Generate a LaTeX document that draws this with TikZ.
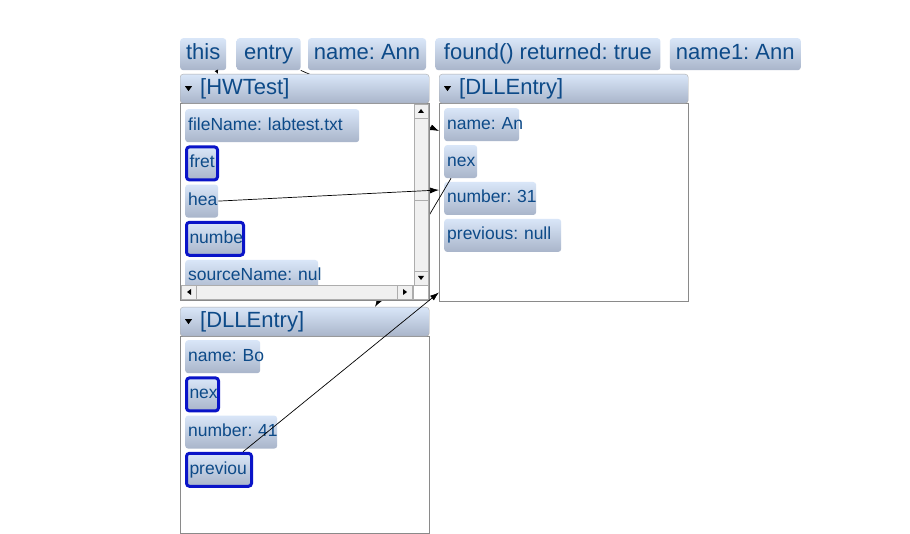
\documentclass[tikz,border=0pt]{standalone}
\usepackage{fontspec}
\setmainfont{Liberation Sans}
\frenchspacing
\usetikzlibrary{arrows.meta,positioning,calc}
\definecolor{lbltop}{HTML}{D9E6F8}
\definecolor{lblbot}{HTML}{A9B5CA}
\definecolor{lbltext}{HTML}{0D4A88}
\definecolor{framegray}{HTML}{8A8A8A}
\definecolor{selblue}{HTML}{0A14C8}
\definecolor{trough}{HTML}{F0F0F0}
\begin{document}
\begin{tikzpicture}[x=1pt,y=-1pt,
  lbl/.style={rounded corners=3pt,top color=lbltop,bottom color=lblbot,
              text=lbltext,font=\fontsize{22}{26}\selectfont,minimum height=32pt,
              text height=16pt,text depth=5pt,
              minimum width=#1,inner sep=0pt,anchor=north west},
  hdr/.style={rounded corners=3pt,top color=lbltop,bottom color=lblbot,draw=framegray!70,
              text=lbltext,font=\fontsize{22}{26}\selectfont,minimum height=29pt,
              text height=16pt,text depth=5pt,
              text width=209pt,inner xsep=20pt,inner ysep=0pt,align=left,anchor=north west},
  fld/.style={rounded corners=3pt,top color=lbltop,bottom color=lblbot,
              text=lbltext,font=\fontsize{17.5}{20}\selectfont,minimum height=33pt,
              text height=13pt,text depth=4pt,
              text width=#1,inner xsep=3pt,inner ysep=0pt,align=left,anchor=north west,
              execute at begin node={\hbox\bgroup},execute at end node={\egroup}},
  sel/.style={draw=selblue,line width=3pt},
  body/.style={draw=framegray,fill=white,minimum width=249pt,minimum height=#1,
               inner sep=0pt,anchor=north west},
  sbar/.style={draw=framegray!70,fill=trough,line width=0.6pt},
  ptr/.style={-{Latex[length=9pt,width=6pt]},black,line width=0.7pt}
]
\fill[white,use as bounding box] (0,0) rectangle (910,534);

\node[lbl=46pt] (this) at (180,38) {this};
\node[lbl=64pt,right=10pt of this] (entry) {entry};
\node[lbl=118pt,right=7pt of entry] (name) {name: Ann};
\node[lbl=225pt,right=9pt of name] (found) {found() returned: true};
\node[lbl=131pt,right=9pt of found] (name1) {name1: Ann};

\node[body=198pt] (dabody) at (439,103) {};
\node[hdr] (da) at (439,74) {[DLLEntry]};
\fill ([xshift=5pt]da.west) ++(0,-2.5) -- ++(7,0) -- ++(-3.5,5) -- cycle;
\node[fld=69pt] (nameA) at (444,108) {name: An};
\node[fld=27pt,below=3.5pt of nameA.south west,anchor=north west] (nextA) {nex};
\node[fld=86pt,below=3.5pt of nextA.south west,anchor=north west] (numA) {number: 31};
\node[fld=111pt,below=3.5pt of numA.south west,anchor=north west] (prevA) {previous: null};

\coordinate (inA) at ($(dabody.north west)+(0,28)$);
\coordinate (inA2) at ($(dabody.north west)+(0,87)$);
\coordinate (inA3) at ($(dabody.south west)+(0,-9)$);
\coordinate (inB) at (375,307);
\draw[ptr] ([xshift=7pt]nextA.south west) -- (inB);
\draw[ptr] (entry.south east) -- (inA);

\node[body=197pt] (hwbody) at (180,103) {};
\node[hdr] (hw) at (180,74) {[HWTest]};
\fill ([xshift=5pt]hw.west) ++(0,-2.5) -- ++(7,0) -- ++(-3.5,5) -- cycle;
\node[fld=168pt] (fname) at (185,109) {fileName: labtest.txt};
\node[fld=25pt,sel,below=3pt of fname.south west,anchor=north west] (fret) {fret};
\node[fld=27pt,below=3pt of fret.south west,anchor=north west] (hea) {hea};
\node[fld=51pt,sel,below=3pt of hea.south west,anchor=north west] (numbe) {numbe};
\node[fld=127pt,below=3pt of numbe.south west,anchor=north west] (src) {sourceName: nul};
\draw[sbar] (414,104) rectangle (428,285);
\draw[sbar] (414,118) rectangle (428,200);
\draw[sbar] (414,104) rectangle (428,118);
\draw[sbar] (414,271) rectangle (428,285);
\fill (418,113) -- (424,113) -- (421,109) -- cycle;
\fill (418,276) -- (424,276) -- (421,280) -- cycle;
\draw[sbar] (181,285) rectangle (413,299);
\draw[sbar] (181,285) rectangle (196,299);
\draw[sbar] (397,285) rectangle (412,299);
\fill (191,289) -- (191,295) -- (187,292) -- cycle;
\fill (403,289) -- (403,295) -- (407,292) -- cycle;
\draw[framegray!70,fill=white] (413,285) rectangle (428,299);

\node[body=197pt] (dbbody) at (180,336) {};
\node[hdr] (db) at (180,307) {[DLLEntry]};
\fill ([xshift=5pt]db.west) ++(0,-2.5) -- ++(7,0) -- ++(-3.5,5) -- cycle;
\node[fld=69pt] (nameB) at (185,340) {name: Bo};
\node[fld=26pt,sel,below=3pt of nameB.south west,anchor=north west] (nextB) {nex};
\node[fld=86pt,below=3pt of nextB.south west,anchor=north west] (numB) {number: 41};
\node[fld=59pt,sel,below=3pt of numB.south west,anchor=north west] (prevB) {previou};

\draw[-{Latex[length=4pt,width=4pt]},line width=0.7pt] ([xshift=-10pt]this.south east) -- ([xshift=38pt]hw.north west);
\draw[ptr] (hea.east) -- (inA2);
\draw[ptr] ([xshift=-10pt]prevB.north east) -- (inA3);
\end{tikzpicture}
\end{document}
